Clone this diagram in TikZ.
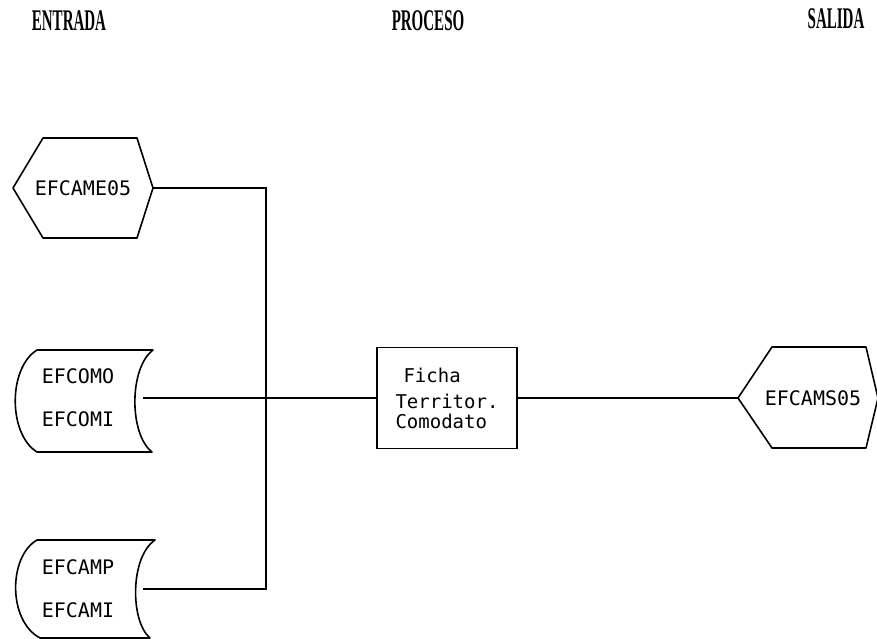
\documentclass[tikz,border=0pt]{standalone}
\usepackage{fontspec}
\newfontfamily\dotfont{DejaVu Sans Mono}
\newfontfamily\headfont[FakeStretch=0.5]{Liberation Serif}

\begin{document}
\begin{tikzpicture}[x=1pt,y=-1pt,
    heading/.style ={font=\headfont\bfseries\fontsize{30}{32}\selectfont, inner sep=0pt},
    hexfile/.style ={font=\dotfont\fontsize{20}{24}\selectfont, inner sep=0pt, minimum width=140pt, minimum height=100pt},
    storefile/.style ={font=\dotfont\fontsize{20}{43}\selectfont, align=center, inner sep=0pt, minimum width=130pt, minimum height=100pt},
    process/.style ={rectangle, draw, line width=1.8pt, font=\dotfont\fontsize{19}{20}\selectfont, align=left, inner sep=0pt, minimum width=140pt, minimum height=101pt},
    outline/.style ={line width=1.6pt, line join=round},
    link/.style ={line width=1.1pt}]
   \useasboundingbox (0,0) rectangle (877,639);

   % column headings
   \node[heading] (entrada) at (69,21)  {ENTRADA};
   \node[heading] (proceso) at (428,21) {PROCESO};
   \node[heading] (salida)  at (836,19) {SALIDA};

   % input files
   \node[hexfile]   (came) at (83,188) {EFCAME05};
   \node[storefile] (como) at (78,398) {EFCOMO\\EFCOMI};
   \node[storefile] (camp) at (78,589) {EFCAMP\\EFCAMI};

   \draw[outline] (13,188) -- (43,138) -- (137,138) -- (153,188) -- (137,238) -- (43,238) -- cycle;
   \draw[outline] (37,350) -- (153,350) .. controls (129,368) and (129,434) .. (152,452)
                  -- (37,452) .. controls (8,434) and (8,368) .. cycle;
   \draw[outline] (37,540) -- (155,540) .. controls (130,557) and (130,621) .. (150,638)
                  -- (40,638) .. controls (8,621) and (8,557) .. cycle;

   % process
   \node[process] (ficha) at (447,398) {\hspace*{8pt}Ficha\\[6pt]Territor.\\Comodato};

   % output file
   \node[hexfile, minimum width=150pt] (cams) at (813,398) {EFCAMS05};
   \draw[outline] (738,398) -- (772,347) -- (866,347) -- (878,398) -- (866,448) -- (772,448) -- cycle;

   % connections
   \coordinate (jtop) at (266,188);
   \coordinate (jbot) at (266,589);
   \draw[link] (came.east) -- (jtop) -- (jbot) -- (camp.east);
   \draw[link] (como.east) -- (ficha.west);
   \draw[link] (ficha.east) -- (cams.west);

 \end{tikzpicture}
\end{document}
